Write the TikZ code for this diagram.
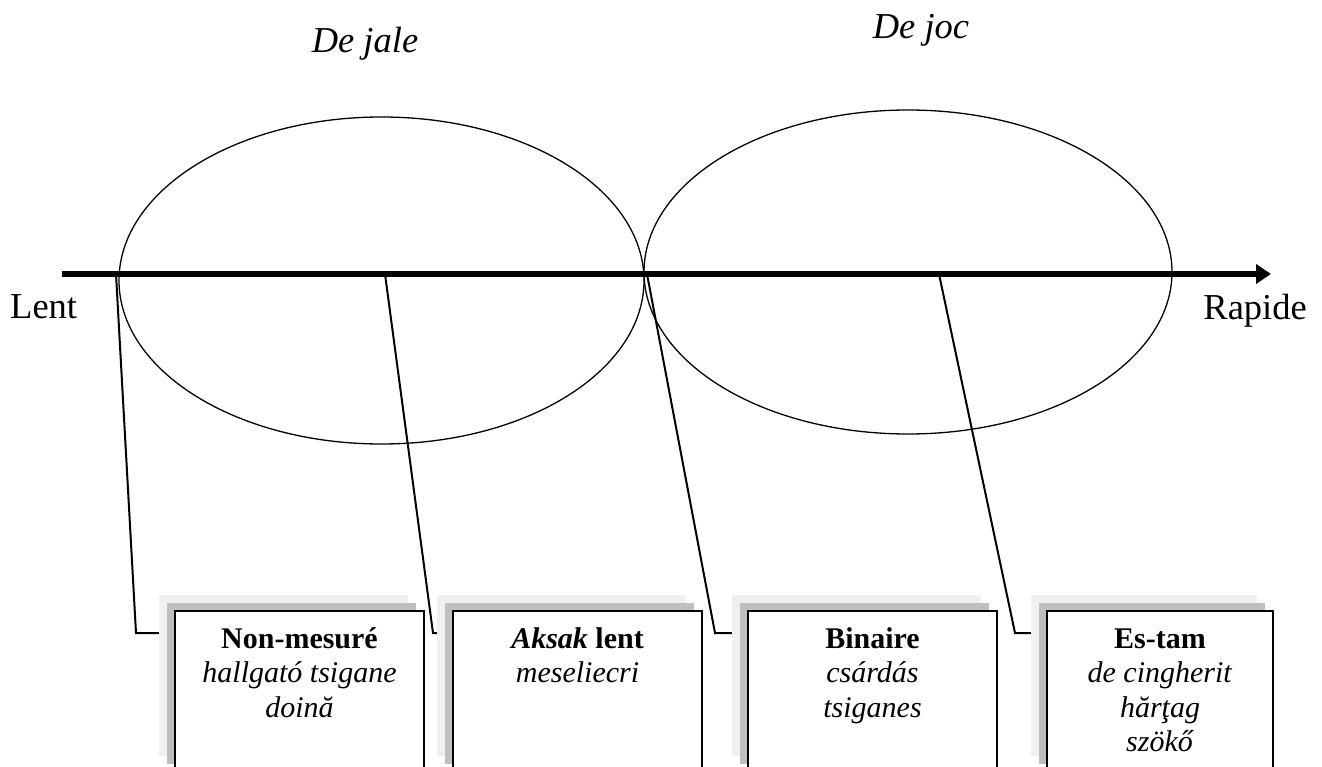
\documentclass[tikz,border=0pt]{standalone}
\usepackage{fontspec}
\setmainfont{Liberation Serif}
\usetikzlibrary{arrows.meta,shapes.geometric,shadows}
\definecolor{shlight}{HTML}{F0F0F0}
\definecolor{shdark}{HTML}{BFBFBF}
\pgfdeclarelayer{bg}
\pgfsetlayers{bg,main}
\tikzset{
  ell/.style={ellipse, draw, line width=1.3pt, inner sep=0pt},
  conn/.style={line width=2pt, line join=miter},
  axisline/.style={line width=6pt, -{Triangle[length=15pt,width=19pt]}},
  bigtext/.style={inner sep=0pt, font=\fontsize{36.5}{42}\selectfont},
  boxnode/.style={draw, fill=white, line width=2pt, inner sep=0pt, anchor=north west,
    font=\fontsize{30}{34.5}\selectfont,
    general shadow={fill=shlight, shadow xshift=-16pt, shadow yshift=16pt},
    general shadow={fill=shdark, shadow xshift=-8pt, shadow yshift=8pt}}
}
\newcommand{\boxtext}[2]{\parbox[c][161pt][t]{#1}{\centering\rule{0pt}{37pt}#2}}
\begin{document}
\begin{tikzpicture}[x=1pt,y=-1pt]
\useasboundingbox (0,0) rectangle (1322,767);
\clip (0,0) rectangle (1322,767);
% boxes
\node[boxnode] (b1) at (174,610) {\boxtext{249pt}{\textbf{Non-mesuré}\\ \textit{hallgató tsigane}\\ \textit{doină}}};
\node[boxnode] (b2) at (452,610) {\boxtext{249pt}{\textbf{\textit{Aksak} lent}\\ \textit{meseliecri}}};
\node[boxnode] (b3) at (747,610) {\boxtext{249pt}{\textbf{Binaire}\\ \textit{csárdás}\\ \textit{tsiganes}}};
\node[boxnode] (b4) at (1046,610) {\boxtext{226pt}{\textbf{Es-tam}\\ \textit{de cingherit}\\ \textit{hărţag}\\ \textit{szökő}}};
% labels
\node[bigtext, anchor=base west] (lent) at (10,318) {Lent};
\node[bigtext, anchor=base east] (rapide) at (1307,319) {Rapide};
\node[bigtext, anchor=base] (jale) at (365,53) {\textit{De jale}};
\node[bigtext, anchor=base] (joc) at (921,39) {\textit{De joc}};
\begin{pgfonlayer}{bg}
\node[ell, minimum width=525pt, minimum height=327pt] (e1) at (381.5,280.5) {};
\node[ell, minimum width=528pt, minimum height=324pt] (e2) at (908,272) {};
\coordinate (ax0) at (62,274);
\coordinate (ax1) at (1271,274);
\coordinate (a1) at (116,274);
\coordinate (a2) at (385,274);
\coordinate (a3) at (647,274);
\coordinate (a4) at (939,274);
\coordinate (k1) at (136,633);
\coordinate (k2) at (433,633);
\coordinate (k3) at (715,633);
\coordinate (k4) at (1015,633);
\draw[conn] (a1) -- (k1) -- (k1 -| b1.west);
\draw[conn] (a2) -- (k2) -- (k2 -| b2.west);
\draw[conn] (a3) -- (k3) -- (k3 -| b3.west);
\draw[conn] (a4) -- (k4) -- (k4 -| b4.west);
\draw[axisline] (ax0) -- (ax1);
\end{pgfonlayer}
\end{tikzpicture}
\end{document}
